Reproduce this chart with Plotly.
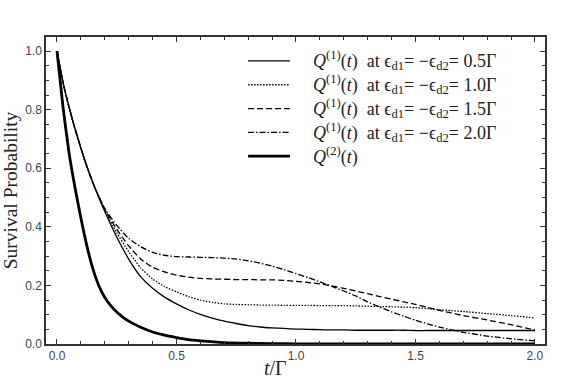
import plotly.graph_objects as go

# time grid (t/Γ) and survival probabilities
t_q1 = [0, 0.03, 0.07, 0.115, 0.155, 0.2, 0.25, 0.3, 0.35, 0.4, 0.45, 0.5, 0.55, 0.6,
        0.65, 0.7, 0.75, 0.8, 0.85, 0.9, 0.95, 1.0, 1.05, 1.1, 1.15, 1.2, 1.25, 1.3, 1.35,
        1.4, 1.45, 1.5, 1.55, 1.6, 1.65, 1.7, 1.8, 1.9, 2.0]

q1_05 = [1.0, 0.875, 0.75, 0.63, 0.54, 0.452, 0.365, 0.29, 0.23, 0.19, 0.16, 0.137, 0.117, 0.101,
         0.088, 0.078, 0.070, 0.063, 0.058, 0.055, 0.053, 0.051, 0.050, 0.049, 0.048, 0.048, 0.047, 0.047, 0.047,
         0.047, 0.047, 0.046, 0.046, 0.046, 0.046, 0.046, 0.046, 0.046, 0.046]

q1_10 = [1.0, 0.875, 0.75, 0.63, 0.54, 0.458, 0.38, 0.315, 0.26, 0.222, 0.196, 0.178, 0.162, 0.150,
         0.142, 0.137, 0.135, 0.134, 0.133, 0.133, 0.132, 0.132, 0.132, 0.131, 0.131, 0.131, 0.130, 0.129, 0.128,
         0.127, 0.126, 0.124, 0.121, 0.117, 0.114, 0.111, 0.104, 0.097, 0.089]

q1_15 = [1.0, 0.875, 0.75, 0.63, 0.54, 0.46, 0.392, 0.335, 0.29, 0.262, 0.246, 0.235, 0.228, 0.224,
         0.222, 0.221, 0.220, 0.220, 0.219, 0.219, 0.217, 0.214, 0.210, 0.205, 0.198, 0.190, 0.181, 0.172, 0.162,
         0.153, 0.144, 0.135, 0.125, 0.115, 0.106, 0.097, 0.082, 0.066, 0.048]

q1_20 = [1.0, 0.875, 0.75, 0.63, 0.54, 0.462, 0.405, 0.36, 0.332, 0.313, 0.303, 0.298, 0.297, 0.296,
         0.295, 0.293, 0.290, 0.284, 0.276, 0.266, 0.254, 0.240, 0.227, 0.212, 0.197, 0.181, 0.164, 0.144, 0.126,
         0.110, 0.095, 0.081, 0.069, 0.058, 0.048, 0.040, 0.027, 0.018, 0.011]

t_q2 = [0, 0.025, 0.05, 0.075, 0.1, 0.125, 0.15, 0.175, 0.2, 0.225, 0.25, 0.275, 0.3, 0.35, 0.4, 0.45,
        0.5, 0.55, 0.6, 0.7, 0.8, 0.9, 1.0, 1.5, 2.0]
q2 = [1.0, 0.81, 0.655, 0.535, 0.43, 0.335, 0.257, 0.199, 0.159, 0.131, 0.109, 0.092, 0.078, 0.057, 0.041, 0.030,
      0.022, 0.015, 0.011, 0.005, 0.0025, 0.0012, 0.0006, 0.0, 0.0]

eps_values = ["0.5", "1.0", "1.5", "2.0"]
q1_series = [q1_05, q1_10, q1_15, q1_20]
dashes = ["solid", "1.5px,1.5px", "6px,3px", "6px,2px,1.5px,2px"]

serif = "Liberation Serif, DejaVu Serif, Times New Roman, serif"
sans = "Liberation Sans, Arial, sans-serif"
NB = "\u00a0"

names = [f"<i>Q</i><sup>(1)</sup>(<i>t</i>){NB} at ϵ<sub>d1</sub>= −ϵ<sub>d2</sub>= {ev}Γ" for ev in eps_values]
names.append("<i>Q</i><sup>(2)</sup>(<i>t</i>)")
widths = [1.3, 1.3, 1.3, 1.3, 2.8]
all_dashes = dashes + ["solid"]

fig = go.Figure()
for name, ys, dsh in zip(names, q1_series, dashes):
    fig.add_trace(go.Scatter(
        x=t_q1, y=ys, mode="lines", name=name, showlegend=False,
        line=dict(color="black", width=1.3, dash=dsh, shape="spline", smoothing=0.5)))
fig.add_trace(go.Scatter(
    x=t_q2, y=q2, mode="lines", name=names[-1], showlegend=False,
    line=dict(color="black", width=2.8, shape="spline", smoothing=0.5)))

# legend drawn as paper-anchored samples + labels (matches the reference's key layout)
leg_x0, leg_x1, leg_tx = 0.405, 0.489, 0.533
leg_y_top, leg_step = 0.922, 0.0775
for i, (name, w, dsh) in enumerate(zip(names, widths, all_dashes)):
    yy = leg_y_top - i * leg_step
    fig.add_shape(type="line", xref="paper", yref="paper", x0=leg_x0, x1=leg_x1, y0=yy, y1=yy,
                  line=dict(color="black", width=w, dash=dsh))
    fig.add_annotation(xref="paper", yref="paper", x=leg_tx, y=yy, xanchor="left", yanchor="middle",
                       text=name, showarrow=False, borderpad=0,
                       font=dict(family=serif, size=18, color="#222222"))

axis_common = dict(
    showline=True, linecolor="#333333", linewidth=1.5, mirror="allticks",
    ticks="inside", ticklen=5, tickwidth=1, tickcolor="#333333",
    showgrid=False, zeroline=False, automargin=False,
    tickfont=dict(family=sans, size=12, color="#444444"),
    tickformat=".1f",
)

fig.update_xaxes(**axis_common, range=[-0.046, 2.042], tickvals=[0, 0.5, 1.0, 1.5, 2.0],
                 minor=dict(dtick=0.1, ticks="inside", ticklen=3, tickcolor="#333333", showgrid=False))
fig.update_yaxes(**axis_common, range=[0, 1.048], tickvals=[0, 0.2, 0.4, 0.6, 0.8, 1.0],
                 minor=dict(dtick=0.05, ticks="inside", ticklen=3, tickcolor="#333333", showgrid=False),
                 title=dict(text="Survival Probability", font=dict(family=serif, size=19.5, color="#222222"), standoff=2))

# x-axis title (sits slightly left of centre in the reference)
fig.add_annotation(xref="paper", yref="paper", x=0.459, y=-0.078, xanchor="center", yanchor="middle",
                   text="<i>t</i>/Γ", showarrow=False, font=dict(family=serif, size=20, color="#222222"))

fig.update_layout(
    width=575, height=381,
    margin=dict(l=46, r=30, t=37, b=37),
    plot_bgcolor="white", paper_bgcolor="white",
    showlegend=False,
)

fig.write_html("out.html", config={"displayModeBar": False},
               post_script="document.body.style.margin='0';document.body.style.padding='0';")
